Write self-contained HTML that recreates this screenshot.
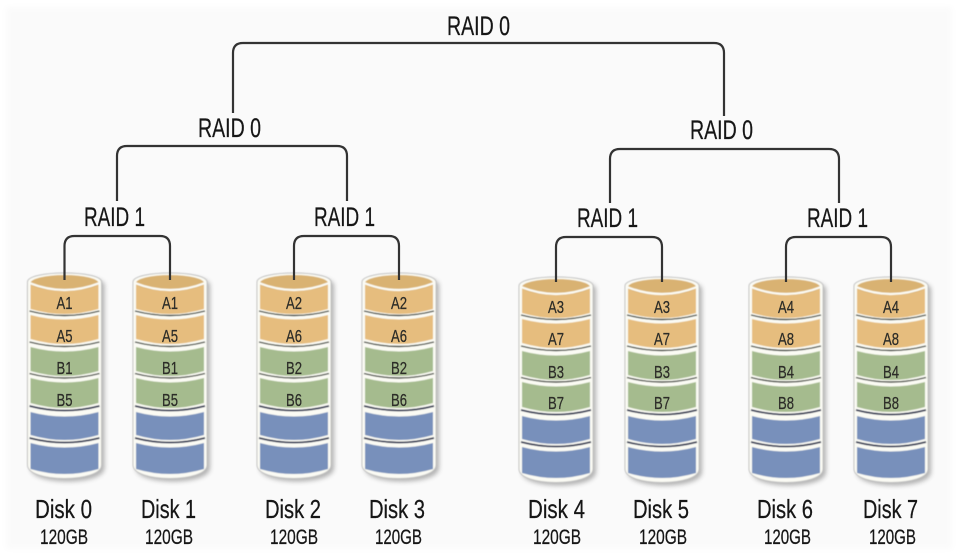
<!DOCTYPE html>
<html lang="en">
<head>
<meta charset="utf-8">
<title>RAID 10 diagram</title>
<style>
html,body{margin:0;padding:0;background:#fff;width:960px;height:560px;overflow:hidden}
svg{display:block}
text{font-family:"Liberation Sans",sans-serif;fill:#161616;stroke:#161616;stroke-width:.25}
.r{font-size:27px}
.d{font-size:26px}
.g{font-size:21px}
.l{font-size:17.5px;fill:#2c2c28;stroke:#2c2c28}
.c{fill:none;stroke:#333;stroke-width:2.2}
</style>
</head>
<body>
<svg width="960" height="560" viewBox="0 0 960 560" xmlns="http://www.w3.org/2000/svg">
<defs>
<filter id="b" x="-5%" y="-5%" width="110%" height="110%"><feGaussianBlur stdDeviation="3"/></filter>
<filter id="s" x="-20%" y="-10%" width="140%" height="120%"><feGaussianBlur stdDeviation="2.5"/></filter>
<filter id="soft" x="-10%" y="-5%" width="120%" height="110%"><feGaussianBlur stdDeviation=".55"/></filter>
<symbol id="disk" overflow="visible">
  <path d="M-37,9 C-37,-3 37,-3 37,9 V192 C37,210 -37,210 -37,192 Z" fill="#777" opacity=".55" filter="url(#s)" transform="translate(3,3)"/>
  <g filter="url(#soft)">
  <path d="M-37,9 C-37,-3 37,-3 37,9 V192 C37,210 -37,210 -37,192 Z" fill="#fbfbf4" stroke="#c4c4c4" stroke-width="1"/>
  <path d="M-34,170 V196 Q0,206 34,196 V170 Q0,179 -34,170 Z" fill="#7890bb"/>
  <path d="M-34,139 V162 Q0,172 34,162 V139 Q0,148 -34,139 Z" fill="#7890bb"/>
  <path d="M-34,105 V130 Q0,140 34,130 V105 Q0,114 -34,105 Z" fill="#a5bb8e"/>
  <path d="M-34,74 V98 Q0,108 34,98 V74 Q0,83 -34,74 Z" fill="#a5bb8e"/>
  <path d="M-34,42 V66 Q0,76 34,66 V42 Q0,51 -34,42 Z" fill="#e6bd7e"/>
  <path d="M-34,11 V36 Q0,46 34,36 V11 Q0,21 -34,11 Z" fill="#e6bd7e"/>
  <ellipse cx="0" cy="10" rx="34" ry="8" fill="#d9b272"/>
  <path d="M-35,10 Q0,24 35,10" fill="none" stroke="#fbfbf4" stroke-width="2.2"/>
  <g fill="none" stroke="#3a4038" stroke-width="1.4">
    <path d="M-35,38 Q0,47 35,38"/>
    <path d="M-35,69 Q0,78 35,69"/>
    <path d="M-35,100.500 Q0,109.500 35,100.500"/>
  </g>
  <g fill="none" stroke="#2c3350" stroke-width="1.7">
    <path d="M-35,133 Q0,142 35,133"/>
    <path d="M-35,165 Q0,174 35,165"/>
  </g>
  </g>
</symbol>
</defs>

<rect x="6" y="7" width="946" height="542" fill="#fafafa" filter="url(#b)"/>

<use href="#disk" x="64.5" y="273"/>
<use href="#disk" x="170" y="273"/>
<use href="#disk" x="294" y="273"/>
<use href="#disk" x="399" y="273"/>
<use href="#disk" x="556" y="277"/>
<use href="#disk" x="662" y="277"/>
<use href="#disk" x="786" y="277"/>
<use href="#disk" x="891" y="277"/>

<path class="c" d="M233,113 V53 Q233,43 243,43 H714 Q724,43 724,53 V116"/>
<path class="c" d="M117,201 V156 Q117,146 127,146 H337 Q347,146 347,156 V201"/>
<path class="c" d="M610,203 V159 Q610,149 620,149 H829 Q839,149 839,159 V203"/>
<path class="c" d="M64.5,280 V246 Q64.5,236 74.5,236 H160 Q170,236 170,246 V280"/>
<path class="c" d="M294,280 V246 Q294,236 304,236 H389 Q399,236 399,246 V280"/>
<path class="c" d="M556,282 V247 Q556,237 566,237 H652 Q662,237 662,247 V282"/>
<path class="c" d="M786,282 V247 Q786,237 796,237 H881 Q891,237 891,247 V282"/>

<text class="r" x="447" y="35" textLength="63" lengthAdjust="spacingAndGlyphs">RAID 0</text>
<text class="r" x="198" y="137" textLength="63" lengthAdjust="spacingAndGlyphs">RAID 0</text>
<text class="r" x="690" y="139" textLength="63" lengthAdjust="spacingAndGlyphs">RAID 0</text>
<text class="r" x="84" y="226" textLength="61" lengthAdjust="spacingAndGlyphs">RAID 1</text>
<text class="r" x="314" y="226" textLength="61" lengthAdjust="spacingAndGlyphs">RAID 1</text>
<text class="r" x="577" y="227" textLength="61" lengthAdjust="spacingAndGlyphs">RAID 1</text>
<text class="r" x="807" y="227" textLength="61" lengthAdjust="spacingAndGlyphs">RAID 1</text>

<g lengthAdjust="spacingAndGlyphs">
<text class="l" x="56.500" y="309" textLength="16" lengthAdjust="spacingAndGlyphs">A1</text><text class="l" x="56.500" y="342" textLength="16" lengthAdjust="spacingAndGlyphs">A5</text><text class="l" x="56.500" y="374" textLength="16" lengthAdjust="spacingAndGlyphs">B1</text><text class="l" x="56.500" y="406" textLength="16" lengthAdjust="spacingAndGlyphs">B5</text>
<text class="l" x="162" y="309" textLength="16" lengthAdjust="spacingAndGlyphs">A1</text><text class="l" x="162" y="342" textLength="16" lengthAdjust="spacingAndGlyphs">A5</text><text class="l" x="162" y="374" textLength="16" lengthAdjust="spacingAndGlyphs">B1</text><text class="l" x="162" y="406" textLength="16" lengthAdjust="spacingAndGlyphs">B5</text>
<text class="l" x="286" y="309" textLength="16" lengthAdjust="spacingAndGlyphs">A2</text><text class="l" x="286" y="342" textLength="16" lengthAdjust="spacingAndGlyphs">A6</text><text class="l" x="286" y="374" textLength="16" lengthAdjust="spacingAndGlyphs">B2</text><text class="l" x="286" y="406" textLength="16" lengthAdjust="spacingAndGlyphs">B6</text>
<text class="l" x="391" y="309" textLength="16" lengthAdjust="spacingAndGlyphs">A2</text><text class="l" x="391" y="342" textLength="16" lengthAdjust="spacingAndGlyphs">A6</text><text class="l" x="391" y="374" textLength="16" lengthAdjust="spacingAndGlyphs">B2</text><text class="l" x="391" y="406" textLength="16" lengthAdjust="spacingAndGlyphs">B6</text>
<text class="l" x="548" y="313" textLength="16" lengthAdjust="spacingAndGlyphs">A3</text><text class="l" x="548" y="345" textLength="16" lengthAdjust="spacingAndGlyphs">A7</text><text class="l" x="548" y="378" textLength="16" lengthAdjust="spacingAndGlyphs">B3</text><text class="l" x="548" y="409" textLength="16" lengthAdjust="spacingAndGlyphs">B7</text>
<text class="l" x="654" y="313" textLength="16" lengthAdjust="spacingAndGlyphs">A3</text><text class="l" x="654" y="345" textLength="16" lengthAdjust="spacingAndGlyphs">A7</text><text class="l" x="654" y="378" textLength="16" lengthAdjust="spacingAndGlyphs">B3</text><text class="l" x="654" y="409" textLength="16" lengthAdjust="spacingAndGlyphs">B7</text>
<text class="l" x="778" y="313" textLength="16" lengthAdjust="spacingAndGlyphs">A4</text><text class="l" x="778" y="345" textLength="16" lengthAdjust="spacingAndGlyphs">A8</text><text class="l" x="778" y="378" textLength="16" lengthAdjust="spacingAndGlyphs">B4</text><text class="l" x="778" y="409" textLength="16" lengthAdjust="spacingAndGlyphs">B8</text>
<text class="l" x="883" y="313" textLength="16" lengthAdjust="spacingAndGlyphs">A4</text><text class="l" x="883" y="345" textLength="16" lengthAdjust="spacingAndGlyphs">A8</text><text class="l" x="883" y="378" textLength="16" lengthAdjust="spacingAndGlyphs">B4</text><text class="l" x="883" y="409" textLength="16" lengthAdjust="spacingAndGlyphs">B8</text>
</g>

<text class="d" x="35" y="518" textLength="57" lengthAdjust="spacingAndGlyphs">Disk 0</text>
<text class="d" x="141" y="518" textLength="55" lengthAdjust="spacingAndGlyphs">Disk 1</text>
<text class="d" x="265" y="518" textLength="56" lengthAdjust="spacingAndGlyphs">Disk 2</text>
<text class="d" x="369" y="518" textLength="56" lengthAdjust="spacingAndGlyphs">Disk 3</text>
<text class="d" x="528" y="518" textLength="57" lengthAdjust="spacingAndGlyphs">Disk 4</text>
<text class="d" x="633" y="518" textLength="56" lengthAdjust="spacingAndGlyphs">Disk 5</text>
<text class="d" x="757" y="518" textLength="56" lengthAdjust="spacingAndGlyphs">Disk 6</text>
<text class="d" x="863" y="518" textLength="55" lengthAdjust="spacingAndGlyphs">Disk 7</text>

<text class="g" x="40" y="544" textLength="48" lengthAdjust="spacingAndGlyphs">120GB</text>
<text class="g" x="145" y="544" textLength="48" lengthAdjust="spacingAndGlyphs">120GB</text>
<text class="g" x="270" y="544" textLength="48" lengthAdjust="spacingAndGlyphs">120GB</text>
<text class="g" x="375" y="544" textLength="47" lengthAdjust="spacingAndGlyphs">120GB</text>
<text class="g" x="533" y="544" textLength="48" lengthAdjust="spacingAndGlyphs">120GB</text>
<text class="g" x="639" y="544" textLength="48" lengthAdjust="spacingAndGlyphs">120GB</text>
<text class="g" x="764" y="544" textLength="47" lengthAdjust="spacingAndGlyphs">120GB</text>
<text class="g" x="869" y="544" textLength="47" lengthAdjust="spacingAndGlyphs">120GB</text>
</svg>
</body>
</html>
